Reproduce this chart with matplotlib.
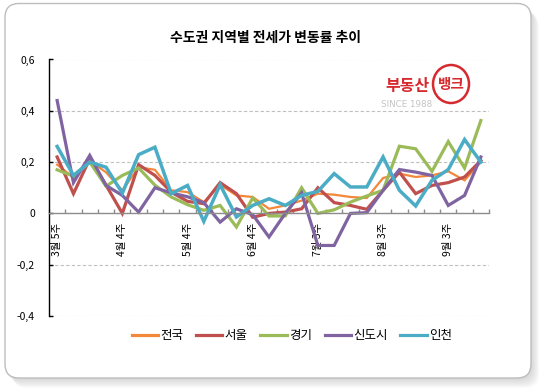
import matplotlib
matplotlib.use('Agg')
import matplotlib.pyplot as plt
import numpy as np
from matplotlib.patches import FancyBboxPatch, Ellipse
from matplotlib.transforms import IdentityTransform

plt.rcParams['font.family'] = ['Noto Sans CJK KR', 'DejaVu Sans']

# ---------------- data ----------------
title = '수도권 지역별 전세가 변동률 추이'
series_names = ['전국', '서울', '경기', '신도시', '인천']
nationwide = [0.19, 0.14, 0.206, 0.16, 0.09, 0.18, 0.17, 0.09, 0.083, 0.044, 0.112, 0.07, 0.064, 0.018,
              0.031, 0.05, 0.077, 0.073, 0.064, 0.06, 0.138, 0.155, 0.142, 0.148, 0.164, 0.129, 0.2]
seoul = [0.22, 0.077, 0.213, 0.11, 0.0, 0.19, 0.148, 0.083, 0.047, 0.038, 0.12, 0.077, -0.015, 0.0,
         0.005, 0.018, 0.1, 0.042, 0.031, 0.016, 0.09, 0.161, 0.077, 0.109, 0.12, 0.142, 0.206]
gyeonggi = [0.17, 0.145, 0.2, 0.106, 0.148, 0.177, 0.11, 0.064, 0.034, 0.012, 0.031, -0.053, 0.06, -0.01,
            -0.01, 0.1, 0.0, 0.014, 0.044, 0.068, 0.09, 0.262, 0.252, 0.164, 0.28, 0.177, 0.362]
new_towns = [0.44, 0.12, 0.226, 0.109, 0.07, 0.005, 0.1, 0.08, 0.065, 0.042, -0.034, 0.018, -0.005, -0.092,
             0.0, 0.08, -0.125, -0.125, 0.0, 0.003, 0.09, 0.171, 0.161, 0.148, 0.031, 0.07, 0.22]
incheon = [0.261, 0.148, 0.2, 0.18, 0.079, 0.229, 0.258, 0.077, 0.109, -0.031, 0.112, -0.014, 0.031, 0.057,
           0.031, 0.07, 0.086, 0.155, 0.103, 0.103, 0.22, 0.09, 0.029, 0.129, 0.171, 0.288, 0.2]
week_labels = ['3월 5주', '4월 4주', '5월 4주', '6월 4주', '7월 3주', '8월 3주', '9월 3주']
label_step = 4
y_ticks = [-0.4, -0.2, 0, 0.2, 0.4, 0.6]
y_tick_labels = ['-0,4', '-0,2', '0', '0,2', '0,4', '0,6']

colors = ['#F3873A', '#C0504D', '#9BBB59', '#8064A2', '#4BACC6']
widths = [1.6, 2.3, 2.3, 2.3, 2.5]

# ---------------- figure ----------------
W, H = 544, 388
fig = plt.figure(figsize=(W / 100, H / 100), dpi=100)
fig.patch.set_facecolor('white')

ident = IdentityTransform()
fx0, fy_top, fx1, fy_bot = 5, 3.5, 531, 378
# shadow
for k in range(1, 10):
    sh = FancyBboxPatch((fx0 + k * 0.9, H - fy_bot - k * 1.1), fx1 - fx0, fy_bot - fy_top,
                        boxstyle='round,pad=0,rounding_size=14', transform=ident,
                        facecolor='#808080', edgecolor='none', alpha=0.035, zorder=-20)
    fig.add_artist(sh)
frame = FancyBboxPatch((fx0, H - fy_bot), fx1 - fx0, fy_bot - fy_top,
                       boxstyle='round,pad=0,rounding_size=14', transform=ident,
                       facecolor='white', edgecolor='#BDBDBD', linewidth=1.0, zorder=-10)
fig.add_artist(frame)

# title
fig.text(265 / W, 1 - 37.5 / H, title, ha='center', va='center', fontsize=10,
         fontweight='bold', color='black')

# logo
fig.text(407 / W, 1 - 86 / H, '부동산', ha='center', va='center', fontsize=11.5,
         fontweight='bold', color='#D62A2F')
fig.text(407 / W, 1 - 104.5 / H, 'SINCE 1988', ha='center', va='center', fontsize=6.3,
         color='#C4C4C4', family=['DejaVu Sans'])
circ = Ellipse((451, H - 84), 36, 38, transform=ident, facecolor='white',
               edgecolor='#D62A2F', linewidth=1.8, zorder=5)
fig.add_artist(circ)
fig.text(451 / W, 1 - 84 / H, '뱅크', ha='center', va='center', fontsize=10.5,
         fontweight='bold', color='#D62A2F', zorder=6)

# axes
ax_left, ax_right, ax_top, ax_bot = 49, 489, 59.5, 316
ax = fig.add_axes([ax_left / W, 1 - ax_bot / H, (ax_right - ax_left) / W, (ax_bot - ax_top) / H])
ax.patch.set_alpha(0)

n = len(nationwide)
x = np.arange(n)
all_series = [nationwide, seoul, gyeonggi, new_towns, incheon]
for name, vals, c, lw in zip(series_names, all_series, colors, widths):
    ax.plot(x, vals, color=c, linewidth=lw, label=name, solid_joinstyle='miter')

ax.set_xlim(-0.5, n - 0.5)
ax.set_ylim(-0.4, 0.6)

for yv in y_ticks:
    if yv != 0:
        ax.axhline(yv, color='#BFBFBF', linewidth=0.8, linestyle=(0, (3, 2)), zorder=0)

for s in ['top', 'right']:
    ax.spines[s].set_visible(False)
ax.spines['left'].set_color('black')
ax.spines['left'].set_linewidth(1.0)
ax.spines['bottom'].set_position(('data', 0))
ax.spines['bottom'].set_color('#8C8C8C')
ax.spines['bottom'].set_linewidth(1.0)

ax.set_yticks(y_ticks)
ax.set_yticklabels(y_tick_labels)
ax.tick_params(axis='y', direction='in', length=3, width=1, pad=10, labelsize=7.5, colors='black')

xt_labels = [''] * n
for j, lab in enumerate(week_labels):
    xt_labels[j * label_step] = lab
ax.set_xticks(x)
ax.set_xticklabels(xt_labels, rotation=90, va='top', ha='center', fontsize=7.5)
ax.tick_params(axis='x', which='major', length=0, pad=6.5)
ax.set_xticks(np.arange(-0.5, n, 1), minor=True)
ax.tick_params(axis='x', which='minor', direction='in', length=3, width=1, color='#8C8C8C')

leg = fig.legend(loc='center', bbox_to_anchor=(292 / W, 1 - 336 / H), ncol=5, frameon=False,
                 fontsize=9, handlelength=2.1, handletextpad=0.2, columnspacing=1.0)
for line in leg.get_lines():
    line.set_linewidth(2.3)

fig.savefig('out.png', dpi=100)
